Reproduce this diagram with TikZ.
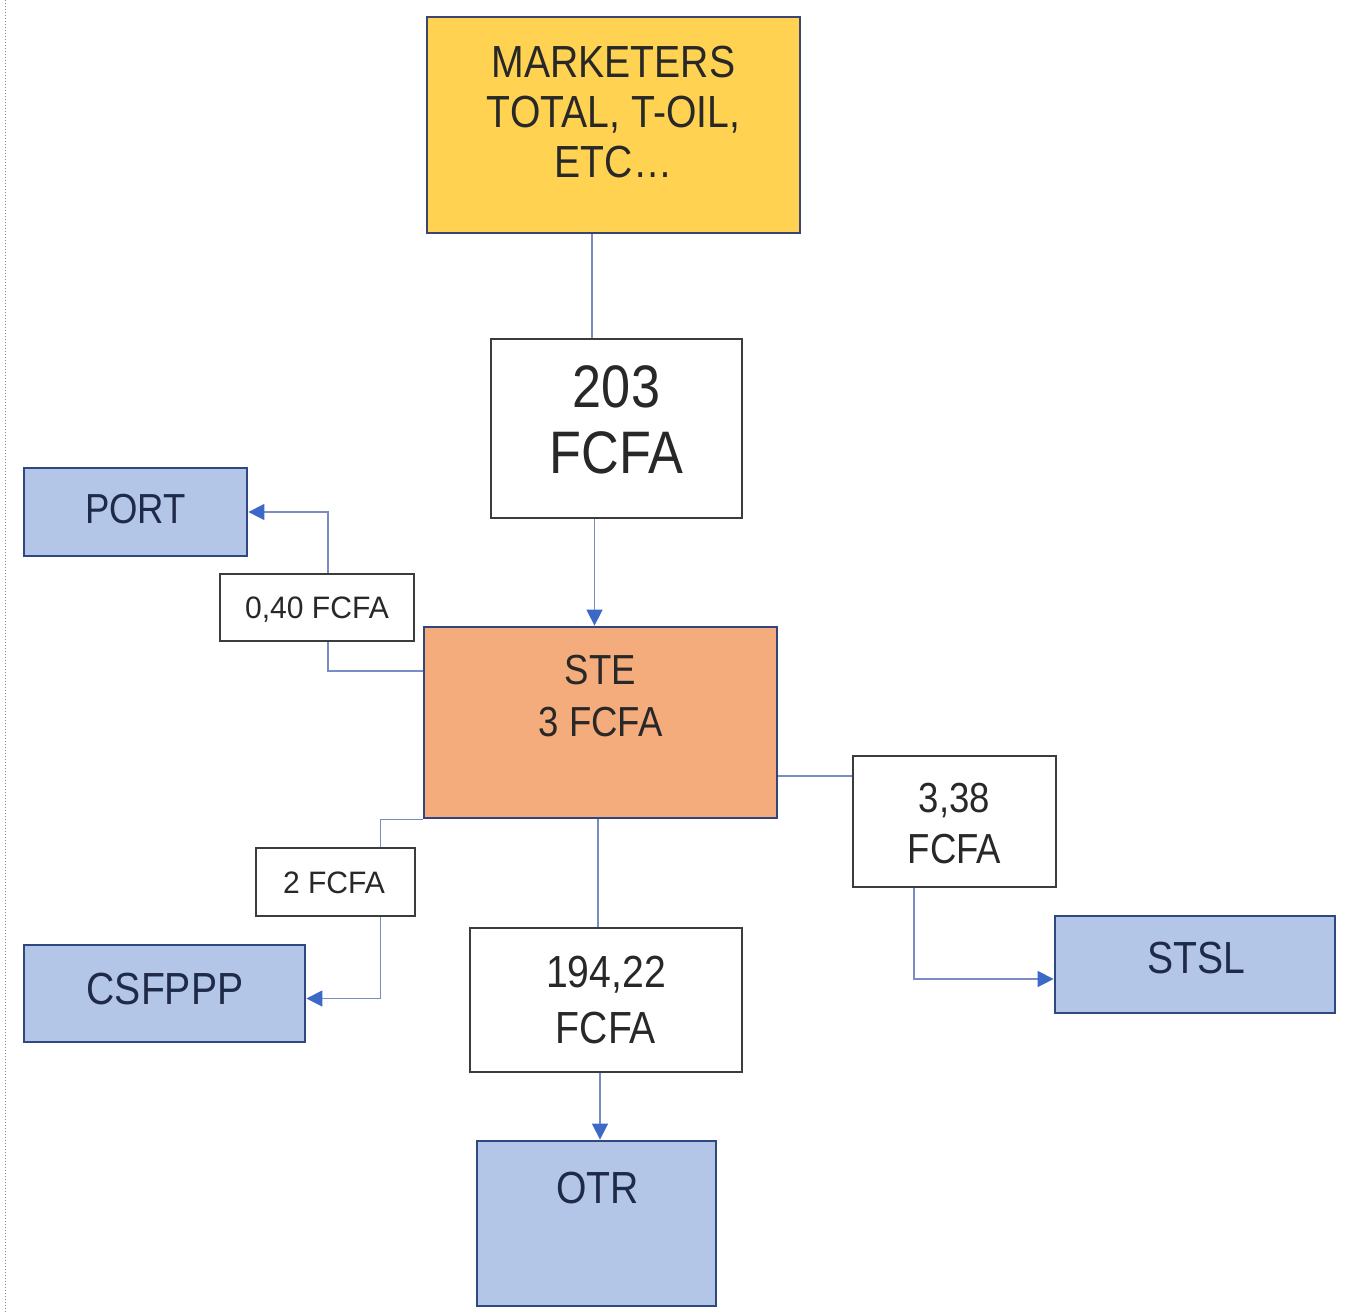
\documentclass[tikz,border=0pt]{standalone}
\usepackage{fontspec}
\setmainfont[FakeStretch=0.87]{Liberation Sans}
\newfontfamily\widefam[FakeStretch=0.97]{Liberation Sans}
\usetikzlibrary{arrows.meta}
\definecolor{yel}{RGB}{255,210,82}
\definecolor{yelborder}{RGB}{62,68,112}
\definecolor{ora}{RGB}{244,172,124}
\definecolor{oraborder}{RGB}{50,70,125}
\definecolor{blu}{RGB}{180,198,231}
\definecolor{bluborder}{RGB}{47,72,128}
\definecolor{whiteborder}{RGB}{60,60,60}
\definecolor{conn}{RGB}{122,140,198}
\definecolor{tip}{RGB}{60,105,200}
\definecolor{txtgray}{RGB}{40,40,40}
\definecolor{txtnavy}{RGB}{30,42,72}
\tikzset{
  box/.style={draw, line width=2.8pt, inner sep=0pt, rectangle},
  yelbox/.style={box, fill=yel, draw=yelborder},
  orabox/.style={box, fill=ora, draw=oraborder},
  blubox/.style={box, fill=blu, draw=bluborder},
  whtbox/.style={box, fill=white, draw=whiteborder, line width=2.3pt},
  line/.style={draw=conn, line width=1.5pt},
  arr/.style={line, -{Triangle[length=16pt,width=16pt,color=tip]}},
  txt/.style={inner sep=0pt, anchor=base, text=txtgray},
  ntxt/.style={txt, text=txtnavy},
  fa/.style={font=\fontsize{45}{50}\selectfont},
  fb/.style={font=\fontsize{60}{66}\selectfont},
  fc/.style={font=\fontsize{42}{50}\selectfont},
  fd/.style={font=\widefam\fontsize{31}{36}\selectfont},
}
\begin{document}
\begin{tikzpicture}[x=1pt,y=-1pt]
\useasboundingbox (0,0) rectangle (1349,1312);
\draw[gray, dotted, line width=1pt] (5,0) -- (5,1312);
% boxes
\node[yelbox, minimum width=373pt, minimum height=216pt] (mk) at (613.5,125) {};
\node[whtbox, minimum width=251pt, minimum height=179pt] (b203) at (616.5,428.5) {};
\node[blubox, minimum width=223pt, minimum height=88pt] (port) at (135.5,512) {};
\node[whtbox, minimum width=194pt, minimum height=67pt] (lab040) at (317,607.5) {};
\node[orabox, minimum width=353pt, minimum height=191pt] (ste) at (600.5,722.5) {};
\node[whtbox, minimum width=203pt, minimum height=131pt] (lab338) at (954.5,821.5) {};
\node[blubox, minimum width=280pt, minimum height=97pt] (stsl) at (1195,964.5) {};
\node[whtbox, minimum width=159pt, minimum height=68pt] (lab2) at (335.5,882) {};
\node[blubox, minimum width=281pt, minimum height=97pt] (csf) at (164.5,993.5) {};
\node[whtbox, minimum width=272pt, minimum height=144pt] (b194) at (606,1000) {};
\node[blubox, minimum width=239pt, minimum height=165pt] (otr) at (596.5,1223.5) {};
% connectors
\draw[line] ([xshift=-21.5pt]mk.south) -- ([xshift=-21.5pt]mk.south |- b203.north);
\draw[arr] ([xshift=-22pt]b203.south) -- ([xshift=-22pt]b203.south |- ste.north);
\draw[line] ([yshift=51.5pt]ste.west) -| ([xshift=11pt]lab040.south);
\draw[arr] ([xshift=11pt]lab040.north) |- (port.east);
\draw[line] (ste.south west) -| ([xshift=45pt]lab2.north);
\draw[arr] ([xshift=45pt]lab2.south) |- ([yshift=-5pt]csf.east);
\draw[line] ([xshift=-2.5pt]ste.south) -- ([xshift=-2.5pt]ste.south |- b194.north);
\draw[arr] ([xshift=-6pt]b194.south) -- ([xshift=-6pt]b194.south |- otr.north);
\draw[line] ([yshift=-53.5pt]ste.east) -- ([yshift=-53.5pt]ste.east -| lab338.west);
\draw[arr] ([xshift=-40.5pt]lab338.south) |- ([yshift=-14.5pt]stsl.west);
% texts
\node[txt, fa] (mk1) at (613.5,77) {MARKETERS};
\node[txt, fa] (mk2) at (613.5,127) {TOTAL, T-OIL,};
\node[txt, fa] (mk3) at (613.5,177) {ETC\ldots};
\node[txt, fb] (t203a) at (616.5,407) {203};
\node[txt, fb] (t203b) at (616.5,473) {FCFA};
\node[ntxt, fc] (tport) at (135.5,523) {PORT};
\node[txt, fd] (t040) at (317,618) {0,40 FCFA};
\node[txt, fc] (tste1) at (600.5,684) {STE};
\node[txt, fc] (tste2) at (600.5,736) {3 FCFA};
\node[txt, fc] (t338a) at (954.5,812) {3,38};
\node[txt, fc] (t338b) at (954.5,863) {FCFA};
\node[ntxt, fa] (tstsl) at (1196,973) {STSL};
\node[txt, fd] (t2) at (334,893) {2 FCFA};
\node[ntxt, fa] (tcsf) at (165,1004) {CSFPPP};
\node[txt, fa] (t194a) at (606,987) {194,22};
\node[txt, fa] (t194b) at (606,1043) {FCFA};
\node[ntxt, fa] (totr) at (597.5,1203) {OTR};
\end{tikzpicture}
\end{document}
